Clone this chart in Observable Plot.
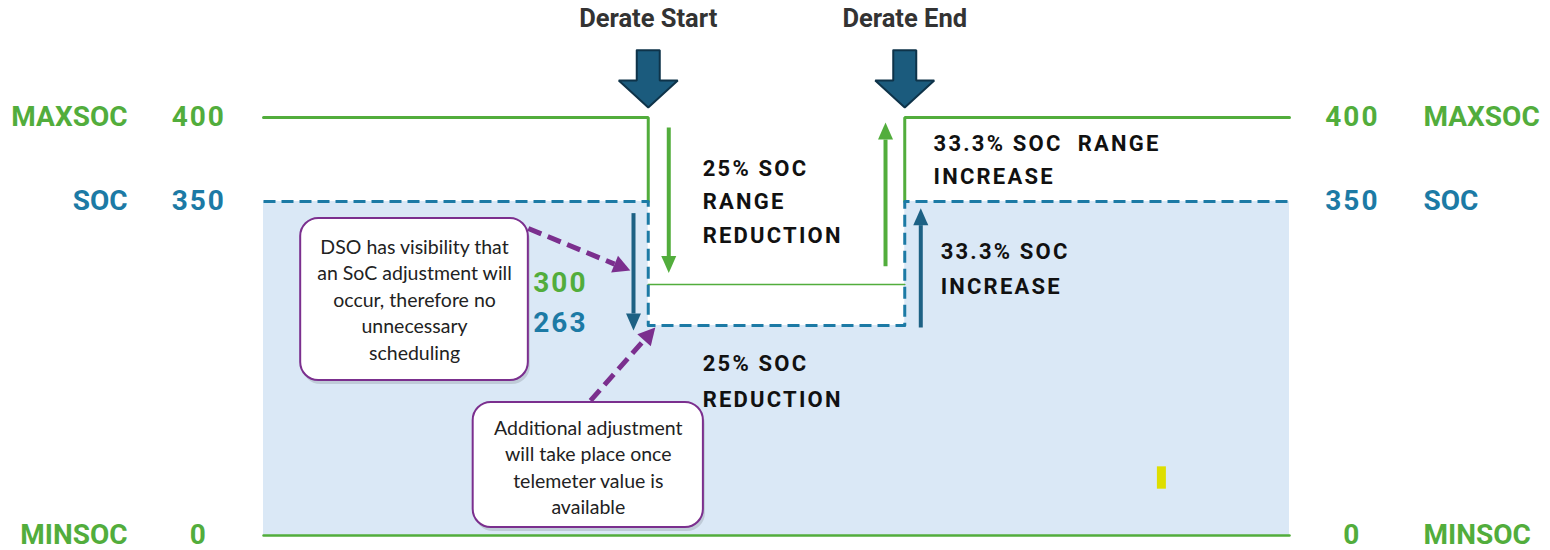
<!DOCTYPE html>
<html><head><meta charset="utf-8">
<script src="https://cdn.jsdelivr.net/npm/d3@7"></script>
<script src="https://cdn.jsdelivr.net/npm/@observablehq/plot@0.6"></script>
<style>body{margin:0;background:#fff}</style>
</head><body><div id="chart"></div>
<script>
// ---------- data ----------
const eventNames = ["Derate Start", "Derate End"];
const eventTimes = [6, 10];
const timeStart = 0, timeEnd = 16;

const levelValues = [0, 263, 300, 350, 400];           // SoC levels (schematic, piecewise axis)
const levelPixels = [535, 325, 284, 201, 117];          // where each level sits on the schematic

const maxSocLeftX = [0, 6, 6],   maxSocLeftY = [400, 400, 350];
const maxSocRightX = [10, 10, 16], maxSocRightY = [350, 400, 400];
const deratedMaxX = [6, 10],     deratedMaxY = [300, 300];
const minSocX = [0, 16],         minSocY = [0, 0];
const socX = [0, 6, 6, 10, 10, 16];
const socY = [350, 350, 263, 263, 350, 350];

const sideLabels = ["MAXSOC", "SOC", "MINSOC"];
const sideValues = [400, 350, 0];
const sideKinds  = ["max", "soc", "max"];
const deratedLabels = ["300", "263"];
const deratedLabelY = [301, 265];
const deratedKinds = ["max", "soc"];

// arrows: x1,y1 -> x2,y2 (tip)
const arrowKind = ["soc", "max", "max", "soc", "note", "note"];
const arrowX1 = [5.77, 6.32, 9.70, 10.25, 4.13, 5.10];
const arrowY1 = [343, 394, 311, 260.5, 333.7, 169];
const arrowX2 = [5.77, 6.32, 9.70, 10.25, 5.72, 6.11];
const arrowY2 = [256.7, 307, 397, 346, 308.4, 260.5];

const blockTop = 440, blockTip = 406, titleY = 459;

const noteTexts = [
  "DSO has visibility that\nan SoC adjustment will\noccur, therefore no\nunnecessary\nscheduling",
  "Additional adjustment\nwill take place once\ntelemeter value is\navailable"
];
const noteX1 = [0.58, 3.27], noteX2 = [4.13, 6.86];
const noteY1 = [194, 10],    noteY2 = [339.8, 166.6];
const noteTextY = [287.4, 87];

const changeTexts = ["25% SOC\nRANGE\nREDUCTION", "33.3% SOC  RANGE\nINCREASE", "33.3% SOC\nINCREASE", "25% SOC\nREDUCTION"];
const changeX = [6.85, 10.45, 10.56, 6.85];
const changeY = [351.8, 376.5, 311.7, 197.9];
const changeLineH = [1.59, 1.59, 1.68, 1.72];

const markX = [13.94, 14.08], markY = [58, 86];

// ---------- styles ----------
const GREEN = "#52ad3c", BLUE = "#1c7aa5", DARK = "#1d6184", PURPLE = "#7b2f8e", FILL = "#dae8f6";
const kindColor = {max: GREEN, soc: BLUE, note: PURPLE};
const arrowColor = {max: GREEN, soc: DARK, note: PURPLE};

const xs = d3.scaleLinear([timeStart, timeEnd], [263, 1289]);
const ys = d3.scaleLinear(levelValues, levelPixels);
const inv = ([px, py]) => [xs.invert(px), ys.invert(py)];

// arrow shafts + heads
const shafts = [], heads = [];
arrowKind.forEach((k, i) => {
  const p1 = [xs(arrowX1[i]), ys(arrowY1[i])], p2 = [xs(arrowX2[i]), ys(arrowY2[i])];
  const dx = p2[0] - p1[0], dy = p2[1] - p1[1], L = Math.hypot(dx, dy);
  const u = [dx / L, dy / L], n = [-u[1], u[0]];
  const len = 17, w = k === "note" ? 18 : 15;
  const base = [p2[0] - u[0] * len, p2[1] - u[1] * len];
  const b = inv(base);
  shafts.push({kind: k, x1: arrowX1[i], y1: arrowY1[i], x2: b[0], y2: b[1]});
  [p2, [base[0] + n[0] * w / 2, base[1] + n[1] * w / 2], [base[0] - n[0] * w / 2, base[1] - n[1] * w / 2], p2]
    .forEach(p => { const d = inv(p); heads.push({id: i, kind: k, x: d[0], y: d[1]}); });
});

// block arrows
const blocks = [];
eventTimes.forEach((t, i) => {
  const cx = xs(t), top = ys(blockTop), tip = ys(blockTip), hb = tip - 27;
  [[cx - 11.5, top], [cx + 11.5, top], [cx + 11.5, hb], [cx + 29.5, hb], [cx, tip], [cx - 29.5, hb], [cx - 11.5, hb], [cx - 11.5, top]]
    .forEach(p => { const d = inv(p); blocks.push({id: i, x: d[0], y: d[1]}); });
});

const pts = (X, Y) => X.map((x, i) => ({x, y: Y[i]}));
const spacing = s => (i, sc, v, d, c, next) => { const g = next(i, sc, v, d, c); g.setAttribute("letter-spacing", s); return g; };

const SIDE_FONT = "Roboto, 'DejaVu Sans', sans-serif";

const chart = Plot.plot({
  width: 1550, height: 550,
  marginLeft: 0, marginRight: 0, marginTop: 0, marginBottom: 0,
  x: {type: "linear", domain: [timeStart, timeEnd], range: [263, 1289], axis: null},
  y: {type: "linear", domain: levelValues, range: levelPixels, axis: null},
  style: {fontFamily: SIDE_FONT, background: "#fff", overflow: "visible"},
  marks: [
    Plot.areaY(pts(socX, socY), {x: "x", y1: 0, y2: "y", fill: FILL, curve: "linear"}),
    Plot.rect([0], {x1: markX[0], x2: markX[1], y1: markY[0], y2: markY[1], fill: "#dede00"}),
    Plot.line(pts(minSocX, minSocY), {x: "x", y: "y", stroke: GREEN, strokeWidth: 2.5}),
    Plot.line(pts(maxSocLeftX, maxSocLeftY), {x: "x", y: "y", stroke: GREEN, strokeWidth: 3, strokeLinejoin: "miter"}),
    Plot.line(pts(maxSocRightX, maxSocRightY), {x: "x", y: "y", stroke: GREEN, strokeWidth: 3, strokeLinejoin: "miter"}),
    Plot.line(pts(deratedMaxX, deratedMaxY), {x: "x", y: "y", stroke: GREEN, strokeWidth: 1.6}),
    Plot.line(pts(socX, socY), {x: "x", y: "y", stroke: BLUE, strokeWidth: 3, strokeDasharray: "12,6", strokeLinecap: "butt"}),
    // arrows
    Plot.link(shafts.filter(d => d.kind !== "note"), {x1: "x1", y1: "y1", x2: "x2", y2: "y2", stroke: d => arrowColor[d.kind], strokeWidth: 4, strokeLinecap: "butt"}),
    Plot.link(shafts.filter(d => d.kind === "note"), {x1: "x1", y1: "y1", x2: "x2", y2: "y2", stroke: PURPLE, strokeWidth: 5, strokeDasharray: "14,7", strokeLinecap: "butt"}),
    Plot.line(heads, {x: "x", y: "y", z: "id", fill: d => arrowColor[d.kind], stroke: "none"}),
    // block arrows
    Plot.line(blocks, {x: "x", y: "y", z: "id", fill: "#1b5b7d", stroke: "#0e3349", strokeWidth: 2, strokeLinejoin: "miter"}),
    Plot.text(eventNames, {x: (d, i) => eventTimes[i], y: titleY, text: d => d, fontSize: 25.5, fontWeight: 700, fill: "#333", textAnchor: "middle", lineAnchor: "middle"}),
    // side labels
    Plot.text(sideLabels, {x: -2.12, y: (d, i) => sideValues[i], text: d => d, textAnchor: "end", lineAnchor: "middle", fontSize: 28, fontWeight: 700, fill: (d, i) => kindColor[sideKinds[i]]}),
    Plot.text(sideValues, {x: -1.01, y: d => d, text: d => String(d), textAnchor: "middle", lineAnchor: "middle", fontSize: 28, fontWeight: 700, fill: (d, i) => kindColor[sideKinds[i]], render: spacing("2")}),
    Plot.text(sideValues, {x: 16.98, y: d => d, text: d => String(d), textAnchor: "middle", lineAnchor: "middle", fontSize: 28, fontWeight: 700, fill: (d, i) => kindColor[sideKinds[i]], render: spacing("2")}),
    Plot.text(sideLabels, {x: 18.09, y: (d, i) => sideValues[i], text: d => d, textAnchor: "start", lineAnchor: "middle", fontSize: 28, fontWeight: 700, fill: (d, i) => kindColor[sideKinds[i]]}),
    Plot.text(deratedLabels, {x: 4.63, y: (d, i) => deratedLabelY[i], text: d => d, textAnchor: "middle", lineAnchor: "middle", fontSize: 28, fontWeight: 700, fill: (d, i) => kindColor[deratedKinds[i]], render: spacing("2")}),
    // change texts
    ...changeTexts.map((t, i) => Plot.text([t], {x: changeX[i], y: changeY[i], text: d => d, textAnchor: "start", lineAnchor: "middle",
      fontSize: 22, fontWeight: 700, fill: "#111", lineHeight: changeLineH[i] * 21 / 22, render: spacing("2.2")})),
    // callouts
    Plot.rect(noteTexts, {x1: (d, i) => noteX1[i], x2: (d, i) => noteX2[i], y1: (d, i) => noteY1[i], y2: (d, i) => noteY2[i],
      fill: "#000", fillOpacity: 0.12, rx: 18, dx: 2, dy: 4}),
    Plot.rect(noteTexts, {x1: (d, i) => noteX1[i], x2: (d, i) => noteX2[i], y1: (d, i) => noteY1[i], y2: (d, i) => noteY2[i],
      fill: "#fff", stroke: PURPLE, strokeWidth: 2, rx: 18}),
    Plot.text(noteTexts, {x: (d, i) => (noteX1[i] + noteX2[i]) / 2, y: (d, i) => noteTextY[i], text: d => d, textAnchor: "middle", lineAnchor: "middle",
      fontSize: 19.5, fontFamily: "Lato, 'Open Sans', sans-serif", fill: "#222", lineHeight: 1.36})
  ]
});
document.getElementById("chart").appendChild(chart);
</script>
</body></html>
